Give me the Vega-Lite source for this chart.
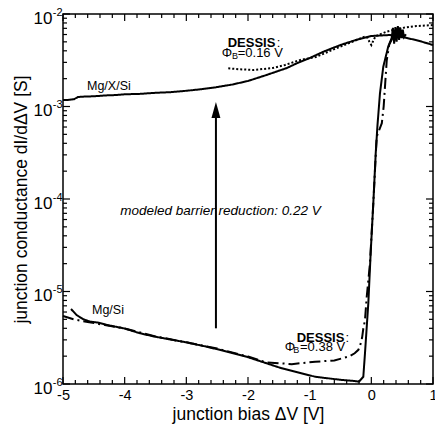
{
  "$schema": "https://vega.github.io/schema/vega-lite/v6.json",
  "width": 370,
  "height": 370,
  "autosize": {"type": "none"},
  "padding": {"left": 63, "top": 14, "right": 2, "bottom": 42},
  "config": {
    "font": "Liberation Sans",
    "view": {"stroke": "#000", "strokeWidth": 1.5},
    "axis": {"domain": false, "grid": false, "labelFlush": false, "labelOverlap": false, "labelBound": false, "labelColor": "#000", "titleColor": "#000"}
  },
  "datasets": {
    "curves": [
      {"series": "Mg/X/Si", "x": -5.0, "y": 0.001175},
      {"series": "Mg/X/Si", "x": -4.9, "y": 0.00118},
      {"series": "Mg/X/Si", "x": -4.82, "y": 0.0012},
      {"series": "Mg/X/Si", "x": -4.76, "y": 0.001265},
      {"series": "Mg/X/Si", "x": -4.66, "y": 0.00128},
      {"series": "Mg/X/Si", "x": -4.5, "y": 0.00129},
      {"series": "Mg/X/Si", "x": -4.3, "y": 0.001318},
      {"series": "Mg/X/Si", "x": -4.15, "y": 0.00133},
      {"series": "Mg/X/Si", "x": -4.0, "y": 0.001355},
      {"series": "Mg/X/Si", "x": -3.75, "y": 0.00137},
      {"series": "Mg/X/Si", "x": -3.5, "y": 0.001406},
      {"series": "Mg/X/Si", "x": -3.25, "y": 0.00143},
      {"series": "Mg/X/Si", "x": -3.0, "y": 0.001479},
      {"series": "Mg/X/Si", "x": -2.75, "y": 0.00154},
      {"series": "Mg/X/Si", "x": -2.52, "y": 0.001614},
      {"series": "Mg/X/Si", "x": -2.25, "y": 0.00173},
      {"series": "Mg/X/Si", "x": -2.0, "y": 0.001888},
      {"series": "Mg/X/Si", "x": -1.7, "y": 0.00219},
      {"series": "Mg/X/Si", "x": -1.37, "y": 0.002606},
      {"series": "Mg/X/Si", "x": -1.2, "y": 0.00295},
      {"series": "Mg/X/Si", "x": -1.0, "y": 0.003342},
      {"series": "Mg/X/Si", "x": -0.75, "y": 0.00398},
      {"series": "Mg/X/Si", "x": -0.5, "y": 0.004624},
      {"series": "Mg/X/Si", "x": -0.25, "y": 0.00524},
      {"series": "Mg/X/Si", "x": 0.0, "y": 0.00578},
      {"series": "Mg/X/Si", "x": 0.3, "y": 0.00593},
      {"series": "Mg/X/Si", "x": 0.5, "y": 0.00564},
      {"series": "Mg/X/Si", "x": 0.75, "y": 0.00518},
      {"series": "Mg/X/Si", "x": 1.0, "y": 0.00462},

      {"series": "DESSIS 0.16 V", "x": -2.32, "y": 0.002588},
      {"series": "DESSIS 0.16 V", "x": -2.13, "y": 0.002523},
      {"series": "DESSIS 0.16 V", "x": -1.91, "y": 0.002483},
      {"series": "DESSIS 0.16 V", "x": -1.6, "y": 0.002606},
      {"series": "DESSIS 0.16 V", "x": -1.4, "y": 0.002812},
      {"series": "DESSIS 0.16 V", "x": -1.15, "y": 0.003186},
      {"series": "DESSIS 0.16 V", "x": -0.9, "y": 0.003427},
      {"series": "DESSIS 0.16 V", "x": -0.5, "y": 0.004457},
      {"series": "DESSIS 0.16 V", "x": -0.2, "y": 0.00537},
      {"series": "DESSIS 0.16 V", "x": -0.1, "y": 0.00571},
      {"series": "DESSIS 0.16 V", "x": -0.06, "y": 0.00551},
      {"series": "DESSIS 0.16 V", "x": -0.03, "y": 0.00498},
      {"series": "DESSIS 0.16 V", "x": 0.0, "y": 0.00462},
      {"series": "DESSIS 0.16 V", "x": 0.03, "y": 0.00511},
      {"series": "DESSIS 0.16 V", "x": 0.07, "y": 0.00578},
      {"series": "DESSIS 0.16 V", "x": 0.25, "y": 0.00644},
      {"series": "DESSIS 0.16 V", "x": 0.46, "y": 0.007},
      {"series": "DESSIS 0.16 V", "x": 0.73, "y": 0.00741},
      {"series": "DESSIS 0.16 V", "x": 1.0, "y": 0.0076},

      {"series": "Mg/Si", "x": -4.87, "y": 6.47e-6},
      {"series": "Mg/Si", "x": -4.78, "y": 5.57e-6},
      {"series": "Mg/Si", "x": -4.67, "y": 5.01e-6},
      {"series": "Mg/Si", "x": -4.56, "y": 4.72e-6},
      {"series": "Mg/Si", "x": -4.42, "y": 4.6e-6},
      {"series": "Mg/Si", "x": -4.29, "y": 4.35e-6},
      {"series": "Mg/Si", "x": -4.0, "y": 3.98e-6},
      {"series": "Mg/Si", "x": -3.75, "y": 3.53e-6},
      {"series": "Mg/Si", "x": -3.5, "y": 3.24e-6},
      {"series": "Mg/Si", "x": -3.21, "y": 2.99e-6},
      {"series": "Mg/Si", "x": -3.0, "y": 2.82e-6},
      {"series": "Mg/Si", "x": -2.67, "y": 2.53e-6},
      {"series": "Mg/Si", "x": -2.4, "y": 2.29e-6},
      {"series": "Mg/Si", "x": -2.13, "y": 2.06e-6},
      {"series": "Mg/Si", "x": -2.0, "y": 1.95e-6},
      {"series": "Mg/Si", "x": -1.455, "y": 1.48e-6},
      {"series": "Mg/Si", "x": -0.914, "y": 1.2e-6},
      {"series": "Mg/Si", "x": -0.5, "y": 1.109e-6},
      {"series": "Mg/Si", "x": -0.265, "y": 1.076e-6},
      {"series": "Mg/Si", "x": -0.2, "y": 1.06e-6},
      {"series": "Mg/Si", "x": -0.13, "y": 1.197e-6},
      {"series": "Mg/Si", "x": -0.103, "y": 2.148e-6},
      {"series": "Mg/Si", "x": -0.049, "y": 7.447e-6},
      {"series": "Mg/Si", "x": -0.011, "y": 2.588e-5},
      {"series": "Mg/Si", "x": 0.032, "y": 8.99e-5},
      {"series": "Mg/Si", "x": 0.071, "y": 0.0003119},
      {"series": "Mg/Si", "x": 0.1, "y": 0.000631},
      {"series": "Mg/Si", "x": 0.14, "y": 0.00139},
      {"series": "Mg/Si", "x": 0.194, "y": 0.00269},
      {"series": "Mg/Si", "x": 0.275, "y": 0.004467},
      {"series": "Mg/Si", "x": 0.33, "y": 0.0055},
      {"series": "Mg/Si", "x": 0.35, "y": 0.00708},
      {"series": "Mg/Si", "x": 0.37, "y": 0.00479},
      {"series": "Mg/Si", "x": 0.39, "y": 0.00724},
      {"series": "Mg/Si", "x": 0.41, "y": 0.00501},
      {"series": "Mg/Si", "x": 0.43, "y": 0.00741},
      {"series": "Mg/Si", "x": 0.45, "y": 0.00525},
      {"series": "Mg/Si", "x": 0.47, "y": 0.00708},
      {"series": "Mg/Si", "x": 0.49, "y": 0.0055},
      {"series": "Mg/Si", "x": 0.51, "y": 0.00676},
      {"series": "Mg/Si", "x": 0.53, "y": 0.00562},
      {"series": "Mg/Si", "x": 0.56, "y": 0.00603},

      {"series": "DESSIS 0.38 V", "x": -5.0, "y": 5.43e-6},
      {"series": "DESSIS 0.38 V", "x": -4.83, "y": 5.01e-6},
      {"series": "DESSIS 0.38 V", "x": -4.6, "y": 4.68e-6},
      {"series": "DESSIS 0.38 V", "x": -4.3, "y": 4.32e-6},
      {"series": "DESSIS 0.38 V", "x": -4.0, "y": 3.98e-6},
      {"series": "DESSIS 0.38 V", "x": -3.5, "y": 3.27e-6},
      {"series": "DESSIS 0.38 V", "x": -3.0, "y": 2.82e-6},
      {"series": "DESSIS 0.38 V", "x": -2.5, "y": 2.42e-6},
      {"series": "DESSIS 0.38 V", "x": -2.0, "y": 1.98e-6},
      {"series": "DESSIS 0.38 V", "x": -1.72, "y": 1.72e-6},
      {"series": "DESSIS 0.38 V", "x": -1.29, "y": 1.64e-6},
      {"series": "DESSIS 0.38 V", "x": -0.91, "y": 1.74e-6},
      {"series": "DESSIS 0.38 V", "x": -0.6, "y": 1.8e-6},
      {"series": "DESSIS 0.38 V", "x": -0.48, "y": 1.89e-6},
      {"series": "DESSIS 0.38 V", "x": -0.35, "y": 2.0e-6},
      {"series": "DESSIS 0.38 V", "x": -0.27, "y": 2.15e-6},
      {"series": "DESSIS 0.38 V", "x": -0.21, "y": 2.34e-6},
      {"series": "DESSIS 0.38 V", "x": -0.18, "y": 2.63e-6},
      {"series": "DESSIS 0.38 V", "x": -0.15, "y": 3.16e-6},
      {"series": "DESSIS 0.38 V", "x": -0.13, "y": 3.98e-6},
      {"series": "DESSIS 0.38 V", "x": -0.103, "y": 4.9e-6},
      {"series": "DESSIS 0.38 V", "x": -0.075, "y": 8.7e-6},
      {"series": "DESSIS 0.38 V", "x": -0.022, "y": 2.02e-5},
      {"series": "DESSIS 0.38 V", "x": 0.032, "y": 9.0e-5},
      {"series": "DESSIS 0.38 V", "x": 0.087, "y": 0.000472},
      {"series": "DESSIS 0.38 V", "x": 0.17, "y": 0.00066},
      {"series": "DESSIS 0.38 V", "x": 0.2, "y": 0.001},
      {"series": "DESSIS 0.38 V", "x": 0.225, "y": 0.00178},
      {"series": "DESSIS 0.38 V", "x": 0.25, "y": 0.00316},
      {"series": "DESSIS 0.38 V", "x": 0.29, "y": 0.00468},
      {"series": "DESSIS 0.38 V", "x": 0.36, "y": 0.00575},
      {"series": "DESSIS 0.38 V", "x": 0.5, "y": 0.00631}
    ],
    "xmajor": [{"v": -5}, {"v": -4}, {"v": -3}, {"v": -2}, {"v": -1}, {"v": 0}, {"v": 1}],
    "xminor": [{"v": -4.8}, {"v": -4.6}, {"v": -4.4}, {"v": -4.2}, {"v": -3.8}, {"v": -3.6}, {"v": -3.4}, {"v": -3.2}, {"v": -2.8}, {"v": -2.6}, {"v": -2.4}, {"v": -2.2}, {"v": -1.8}, {"v": -1.6}, {"v": -1.4}, {"v": -1.2}, {"v": -0.8}, {"v": -0.6}, {"v": -0.4}, {"v": -0.2}, {"v": 0.2}, {"v": 0.4}, {"v": 0.6}, {"v": 0.8}],
    "ymajor": [{"v": 1e-6}, {"v": 1e-5}, {"v": 0.0001}, {"v": 0.001}, {"v": 0.01}],
    "yminor": [{"v": 2e-6}, {"v": 3e-6}, {"v": 4e-6}, {"v": 5e-6}, {"v": 6e-6}, {"v": 7e-6}, {"v": 8e-6}, {"v": 9e-6}, {"v": 2e-5}, {"v": 3e-5}, {"v": 4e-5}, {"v": 5e-5}, {"v": 6e-5}, {"v": 7e-5}, {"v": 8e-5}, {"v": 9e-5}, {"v": 0.0002}, {"v": 0.0003}, {"v": 0.0004}, {"v": 0.0005}, {"v": 0.0006}, {"v": 0.0007}, {"v": 0.0008}, {"v": 0.0009}, {"v": 0.002}, {"v": 0.003}, {"v": 0.004}, {"v": 0.005}, {"v": 0.006}, {"v": 0.007}, {"v": 0.008}, {"v": 0.009}],
    "dummy": [{"x": 0, "y": 0.001}],
    "arrow": [{"x": -2.52, "y": 4.0e-6, "y2": 0.00079}],
    "arrowhead": [{"x": -2.52, "y": 0.000916}],
    "texts": [
      {"part": "name", "x": -4.611, "y": 0.001507, "text": "Mg/X/Si"},
      {"part": "name", "x": -4.53, "y": 5.71e-6, "text": "Mg/Si"},
      {"part": "note", "x": -2.446, "y": 6.71e-5, "text": "modeled barrier reduction: 0.22 V"},
      {"part": "head", "x": -2.329, "y": 0.00443, "text": "DESSIS"},
      {"part": "head", "x": -1.211, "y": 2.864e-6, "text": "DESSIS"},
      {"part": "colon", "x": -1.535, "y": 0.00443, "text": ":"},
      {"part": "colon", "x": -0.42, "y": 2.864e-6, "text": ":"},
      {"part": "sym", "x": -2.425, "y": 0.00345, "text": "Φ"},
      {"part": "sym", "x": -1.403, "y": 2.29e-6, "text": "Φ"},
      {"part": "sub", "x": -2.26, "y": 0.00324, "text": "B"},
      {"part": "sub", "x": -1.266, "y": 2.148e-6, "text": "B"},
      {"part": "val", "x": -2.167, "y": 0.00345, "text": "=0.16 V"},
      {"part": "val", "x": -1.157, "y": 2.29e-6, "text": "=0.38 V"}
    ]
  },
  "resolve": {"axis": {"x": "independent", "y": "independent"}},
  "layer": [
    {
      "data": {"name": "curves"},
      "mark": {"type": "line", "strokeWidth": 2, "color": "#000"},
      "encoding": {
        "x": {"field": "x", "type": "quantitative",
          "scale": {"type": "linear", "domain": [-5, 1], "nice": false, "zero": false},
          "axis": {"orient": "bottom", "values": [-5, -4, -3, -2, -1, 0, 1], "ticks": false,
            "labelExpr": "'' + datum.value", "labelFontSize": 14.5, "labelBaseline": "alphabetic", "labelPadding": 15,
            "title": "junction bias ΔV [V]", "titleFontSize": 17.5, "titleFontWeight": "normal",
            "titleX": 185, "titleY": 35, "titleBaseline": "alphabetic", "titleAlign": "center"}},
        "y": {"field": "y", "type": "quantitative",
          "scale": {"type": "log", "domain": [1e-6, 0.01], "nice": false},
          "axis": {"orient": "left", "values": [1e-6, 1e-5, 0.0001, 0.001, 0.01], "ticks": false,
            "labelExpr": "'10'", "labelFontSize": 17, "labelBaseline": "alphabetic", "labelOffset": 9, "labelPadding": 11, "labelAlign": "right",
            "title": "junction conductance dI/dΔV [S]", "titleFontSize": 17.5, "titleFontWeight": "normal",
            "titleX": -37, "titleY": 185, "titleBaseline": "alphabetic", "titleAngle": 270, "titleAlign": "center"}},
        "strokeDash": {"field": "series", "type": "nominal",
          "scale": {"domain": ["Mg/X/Si", "Mg/Si", "DESSIS 0.16 V", "DESSIS 0.38 V"], "range": [[1, 0], [1, 0], [2, 2], [11, 4, 2, 4]]},
          "legend": null}
      }
    },
    {
      "data": {"name": "dummy"},
      "mark": {"type": "point", "opacity": 0},
      "encoding": {
        "x": {"field": "x", "type": "quantitative", "axis": null},
        "y": {"field": "y", "type": "quantitative",
          "axis": {"orient": "left", "values": [1e-6, 1e-5, 0.0001, 0.001, 0.01], "ticks": false,
            "labelExpr": "'-' + round(-log(datum.value) / LN10)", "labelFontSize": 11, "labelBaseline": "alphabetic", "labelOffset": 1, "labelPadding": 1, "labelAlign": "right", "title": null}}
      }
    },
    {
      "data": {"name": "xmajor"},
      "mark": {"type": "rule", "strokeWidth": 1.2, "color": "#000"},
      "encoding": {
        "x": {"field": "v", "type": "quantitative", "axis": null},
        "y": {"datum": 0.000001, "type": "quantitative", "axis": null},
        "y2": {"datum": 0.00000119}
      }
    },
    {
      "data": {"name": "xminor"},
      "mark": {"type": "rule", "strokeWidth": 1.2, "color": "#000"},
      "encoding": {
        "x": {"field": "v", "type": "quantitative", "axis": null},
        "y": {"datum": 0.000001, "type": "quantitative", "axis": null},
        "y2": {"datum": 0.000001105}
      }
    },
    {
      "data": {"name": "xmajor"},
      "mark": {"type": "rule", "strokeWidth": 1.2, "color": "#000"},
      "encoding": {
        "x": {"field": "v", "type": "quantitative", "axis": null},
        "y": {"datum": 0.01, "type": "quantitative", "axis": null},
        "y2": {"datum": 0.0084}
      }
    },
    {
      "data": {"name": "xminor"},
      "mark": {"type": "rule", "strokeWidth": 1.2, "color": "#000"},
      "encoding": {
        "x": {"field": "v", "type": "quantitative", "axis": null},
        "y": {"datum": 0.01, "type": "quantitative", "axis": null},
        "y2": {"datum": 0.00905}
      }
    },
    {
      "data": {"name": "ymajor"},
      "mark": {"type": "rule", "strokeWidth": 1.2, "color": "#000"},
      "encoding": {
        "y": {"field": "v", "type": "quantitative", "axis": null},
        "x": {"datum": -5, "type": "quantitative", "axis": null},
        "x2": {"datum": -4.8865}
      }
    },
    {
      "data": {"name": "yminor"},
      "mark": {"type": "rule", "strokeWidth": 1.2, "color": "#000"},
      "encoding": {
        "y": {"field": "v", "type": "quantitative", "axis": null},
        "x": {"datum": -5, "type": "quantitative", "axis": null},
        "x2": {"datum": -4.935}
      }
    },
    {
      "data": {"name": "ymajor"},
      "mark": {"type": "rule", "strokeWidth": 1.2, "color": "#000"},
      "encoding": {
        "y": {"field": "v", "type": "quantitative", "axis": null},
        "x": {"datum": 1, "type": "quantitative", "axis": null},
        "x2": {"datum": 0.8865}
      }
    },
    {
      "data": {"name": "yminor"},
      "mark": {"type": "rule", "strokeWidth": 1.2, "color": "#000"},
      "encoding": {
        "y": {"field": "v", "type": "quantitative", "axis": null},
        "x": {"datum": 1, "type": "quantitative", "axis": null},
        "x2": {"datum": 0.935}
      }
    },
    {
      "data": {"name": "arrow"},
      "mark": {"type": "rule", "strokeWidth": 2, "color": "#000"},
      "encoding": {
        "x": {"field": "x", "type": "quantitative", "axis": null},
        "y": {"field": "y", "type": "quantitative", "axis": null},
        "y2": {"field": "y2"}
      }
    },
    {
      "data": {"name": "arrowhead"},
      "mark": {"type": "point", "shape": "M0,-1L0.56,1L-0.56,1Z", "size": 256, "filled": true, "color": "#000", "opacity": 1, "strokeWidth": 0},
      "encoding": {
        "x": {"field": "x", "type": "quantitative", "axis": null},
        "y": {"field": "y", "type": "quantitative", "axis": null}
      }
    },
    {
      "data": {"name": "texts"},
      "transform": [{"filter": "datum.part == 'name'"}],
      "mark": {"type": "text", "align": "left", "baseline": "alphabetic", "fontSize": 12.5, "color": "#000"},
      "encoding": {
        "x": {"field": "x", "type": "quantitative", "axis": null},
        "y": {"field": "y", "type": "quantitative", "axis": null},
        "text": {"field": "text"}
      }
    },
    {
      "data": {"name": "texts"},
      "transform": [{"filter": "datum.part == 'note'"}],
      "mark": {"type": "text", "align": "center", "baseline": "alphabetic", "fontSize": 13.5, "fontStyle": "italic", "color": "#000"},
      "encoding": {
        "x": {"field": "x", "type": "quantitative", "axis": null},
        "y": {"field": "y", "type": "quantitative", "axis": null},
        "text": {"field": "text"}
      }
    },
    {
      "data": {"name": "texts"},
      "transform": [{"filter": "datum.part == 'head'"}],
      "mark": {"type": "text", "align": "left", "baseline": "alphabetic", "fontSize": 13, "fontWeight": "bold", "color": "#000"},
      "encoding": {
        "x": {"field": "x", "type": "quantitative", "axis": null},
        "y": {"field": "y", "type": "quantitative", "axis": null},
        "text": {"field": "text"}
      }
    },
    {
      "data": {"name": "texts"},
      "transform": [{"filter": "datum.part == 'colon' || datum.part == 'sym' || datum.part == 'val'"}],
      "mark": {"type": "text", "align": "left", "baseline": "alphabetic", "fontSize": 13, "color": "#000"},
      "encoding": {
        "x": {"field": "x", "type": "quantitative", "axis": null},
        "y": {"field": "y", "type": "quantitative", "axis": null},
        "text": {"field": "text"}
      }
    },
    {
      "data": {"name": "texts"},
      "transform": [{"filter": "datum.part == 'sub'"}],
      "mark": {"type": "text", "align": "left", "baseline": "alphabetic", "fontSize": 9, "color": "#000"},
      "encoding": {
        "x": {"field": "x", "type": "quantitative", "axis": null},
        "y": {"field": "y", "type": "quantitative", "axis": null},
        "text": {"field": "text"}
      }
    }
  ]
}
